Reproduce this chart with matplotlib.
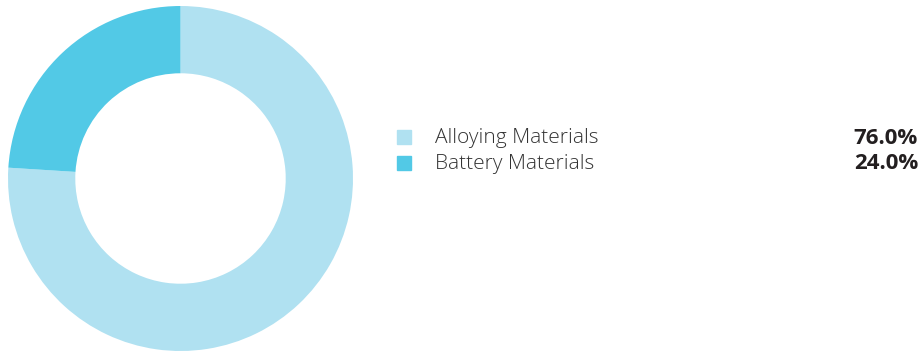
import matplotlib.pyplot as plt
from matplotlib.patches import Rectangle

labels = ['Alloying Materials', 'Battery Materials']
values = [76.0, 24.0]
colors = ['#b0e1f1', '#52c9e6']

W, H = 923, 352
fig = plt.figure(figsize=(W / 100, H / 100), dpi=100)

# donut, pixel geometry from the reference
cx, cy, r = 180.5, 178.5, 172.5
ax = fig.add_axes([(cx - r) / W, 1 - (cy + r) / H, 2 * r / W, 2 * r / H])
ax.pie(values, colors=colors, startangle=90, counterclock=False,
       radius=1, wedgeprops=dict(width=0.39, linewidth=0))
ax.set_xlim(-1, 1)
ax.set_ylim(-1, 1)
ax.set_aspect('equal')
ax.axis('off')

# legend on the right
font = ['Open Sans', 'DejaVu Sans']
ys = [137, 163]
for lab, val, col, y in zip(labels, values, colors, ys):
    fig.patches.append(Rectangle((397 / W, 1 - (y + 7) / H), 14 / W, 14 / H,
                                 transform=fig.transFigure, color=col))
    fig.text(435 / W, 1 - (y + 1) / H, lab, family=font, fontsize=15,
             fontweight='light', color='#333333', va='center', ha='left')
    fig.text(918 / W, 1 - (y + 1) / H, f'{val:.1f}%', family=font, fontsize=16,
             fontweight='bold', color='#231f20', va='center', ha='right')

fig.savefig('out.png', dpi=100)
